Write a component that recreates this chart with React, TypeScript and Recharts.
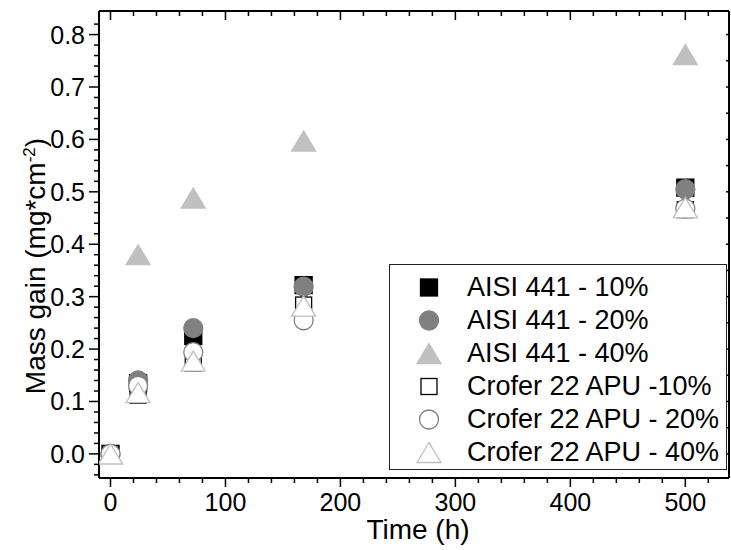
import { Legend, Scatter, ScatterChart, XAxis, YAxis } from 'recharts'

const hours = [0, 24, 72, 168, 500]
const aisi10 = [0, 0.135, 0.225, 0.322, 0.508]
const aisi20 = [0, 0.14, 0.24, 0.319, 0.505]
const aisi40 = [0, 0.38, 0.488, 0.597, 0.762]
const crofer10 = [0, 0.112, 0.173, 0.284, 0.466]
const crofer20 = [0, 0.13, 0.194, 0.255, 0.468]
const crofer40 = [0, 0.117, 0.177, 0.282, 0.47]

const xMajorTicks = [0, 100, 200, 300, 400, 500]
const yMajorTicks = [0, 0.1, 0.2, 0.3, 0.4, 0.5, 0.6, 0.7, 0.8]

// minor ticks every 20 h / 0.02
const xTicks = Array.from({ length: 27 }, (_, i) => i * 20)
const yTicks = Array.from({ length: 44 }, (_, i) => Math.round((i * 0.02 - 0.04) * 100) / 100)
const yRightTicks = Array.from({ length: 17 }, (_, i) => Math.round(i * 0.05 * 100) / 100)

const FONT = '"Liberation Sans", Arial, sans-serif'

type Kind = 'square' | 'circle' | 'triangle'

interface SeriesDef {
  name: string
  values: number[]
  kind: Kind
  fill: string
  stroke: string
}

const series: SeriesDef[] = [
  { name: 'AISI 441 - 10%', values: aisi10, kind: 'square', fill: '#000000', stroke: '#000000' },
  { name: 'AISI 441 - 20%', values: aisi20, kind: 'circle', fill: '#808080', stroke: '#808080' },
  { name: 'AISI 441 - 40%', values: aisi40, kind: 'triangle', fill: '#c0c0c0', stroke: '#c0c0c0' },
  { name: 'Crofer 22 APU -10%', values: crofer10, kind: 'square', fill: '#ffffff', stroke: '#000000' },
  { name: 'Crofer 22 APU - 20%', values: crofer20, kind: 'circle', fill: '#ffffff', stroke: '#808080' },
  { name: 'Crofer 22 APU - 40%', values: crofer40, kind: 'triangle', fill: '#ffffff', stroke: '#c0c0c0' },
]

function Marker({ kind, cx, cy, fill, stroke }: { kind: Kind; cx: number; cy: number; fill: string; stroke: string }) {
  if (kind === 'square') {
    const s = fill === '#ffffff' ? 16 : 17
    return <rect x={cx - s / 2} y={cy - s / 2} width={s} height={s} fill={fill} stroke={stroke} strokeWidth={1.3} />
  }
  if (kind === 'circle') {
    return <circle cx={cx} cy={cy} r={9.5} fill={fill} stroke={stroke} strokeWidth={1.3} />
  }
  return (
    <polygon
      points={`${cx},${cy - 10} ${cx - 12},${cy + 10} ${cx + 12},${cy + 10}`}
      fill={fill}
      stroke={stroke}
      strokeWidth={1.3}
    />
  )
}

const isMajorY = (v: number) => yMajorTicks.some((t) => Math.abs(t - v) < 1e-6)

function BottomTick(props: any) {
  const { x, y, payload } = props
  const major = xMajorTicks.includes(payload.value)
  return (
    <g>
      <line x1={x} x2={x} y1={y} y2={y + (major ? 9 : 5)} stroke="#000" strokeWidth={1.5} />
      {major && (
        <text x={x} y={y + 33} textAnchor="middle" fontSize={25} fontFamily={FONT} fill="#000">
          {payload.value}
        </text>
      )}
    </g>
  )
}

function TopTick(props: any) {
  const { x, y, payload } = props
  const major = xMajorTicks.includes(payload.value)
  return <line x1={x} x2={x} y1={y} y2={y + (major ? 9 : 5)} stroke="#000" strokeWidth={1.5} />
}

function LeftTick(props: any) {
  const { x, y, payload } = props
  const major = isMajorY(payload.value)
  return (
    <g>
      <line x1={x - (major ? 10 : 5)} x2={x} y1={y} y2={y} stroke="#000" strokeWidth={1.5} />
      {major && (
        <text x={x - 14} y={y} dy="0.36em" textAnchor="end" fontSize={25} fontFamily={FONT} fill="#000">
          {payload.value.toFixed(1)}
        </text>
      )}
    </g>
  )
}

function RightTick(props: any) {
  const { x, y } = props
  return <line x1={x - 3} x2={x} y1={y} y2={y} stroke="#000" strokeWidth={1.5} />
}

const yLabel = () => (
  <text transform="translate(45,266) rotate(-90)" textAnchor="middle" fontSize={28} fontFamily={FONT} fill="#000">
    Mass gain (mg*cm
    <tspan dy={-10} fontSize={17}>
      -2
    </tspan>
    <tspan dy={10}>)</tspan>
  </text>
)

const xLabel = () => (
  <text x={418} y={539} textAnchor="middle" fontSize={28} fontFamily={FONT} fill="#000">
    Time (h)
  </text>
)

function LegendBox() {
  return (
    <div
      style={{
        width: 338,
        height: 206,
        boxSizing: 'border-box',
        border: '1px solid #222',
        background: '#fff',
        paddingTop: 6,
        fontFamily: FONT,
        fontSize: 27,
        color: '#000',
      }}
    >
      {series.map((s) => (
        <div key={s.name} style={{ height: 33, display: 'flex', alignItems: 'center' }}>
          <svg width={77} height={33} style={{ flex: 'none' }}>
            <Marker kind={s.kind} cx={39} cy={16.5} fill={s.fill} stroke={s.stroke} />
          </svg>
          <span style={{ whiteSpace: 'nowrap', lineHeight: '33px' }}>{s.name}</span>
        </div>
      ))}
    </div>
  )
}

export default function App() {
  const axisLine = { stroke: '#000', strokeWidth: 2 }
  return (
    <div style={{ position: 'absolute', left: 0, top: 0, width: 731, height: 550, background: '#fff' }}>
      <ScatterChart width={731} height={550} margin={{ top: 0, right: 0, bottom: 0, left: 0 }}>
        <XAxis
          xAxisId="bottom"
          type="number"
          dataKey="t"
          domain={[-10, 538]}
          allowDataOverflow
          ticks={xTicks}
          interval={0}
          height={72}
          tickSize={0}
          tickMargin={0}
          tickLine={false}
          axisLine={axisLine}
          tick={BottomTick}
          label={xLabel}
        />
        <XAxis
          xAxisId="top"
          orientation="top"
          type="number"
          dataKey="t"
          domain={[-10, 538]}
          allowDataOverflow
          ticks={xTicks}
          interval={0}
          height={11}
          tickSize={0}
          tickMargin={0}
          tickLine={false}
          axisLine={axisLine}
          tick={TopTick}
        />
        <YAxis
          yAxisId="left"
          type="number"
          dataKey="v"
          domain={[-0.046, 0.845]}
          allowDataOverflow
          ticks={yTicks}
          interval={0}
          width={99}
          tickSize={0}
          tickMargin={0}
          tickLine={false}
          axisLine={axisLine}
          tick={LeftTick}
          label={yLabel}
        />
        <YAxis
          yAxisId="right"
          orientation="right"
          type="number"
          dataKey="v"
          domain={[-0.046, 0.845]}
          allowDataOverflow
          ticks={yRightTicks}
          interval={0}
          width={2}
          tickSize={0}
          tickMargin={0}
          tickLine={false}
          axisLine={axisLine}
          tick={RightTick}
        />
        {series.map((s) => (
          <Scatter
            key={s.name}
            name={s.name}
            xAxisId="bottom"
            yAxisId="left"
            data={hours.map((t, i) => ({ t, v: s.values[i] }))}
            isAnimationActive={false}
            shape={(p: any) => <Marker kind={s.kind} cx={p.cx} cy={p.cy} fill={s.fill} stroke={s.stroke} />}
          />
        ))}
        <Legend
          layout="vertical"
          align="center"
          verticalAlign="middle"
          content={LegendBox}
          wrapperStyle={{ position: 'absolute', left: 389, top: 264, width: 338, height: 206 }}
        />
      </ScatterChart>
    </div>
  )
}
